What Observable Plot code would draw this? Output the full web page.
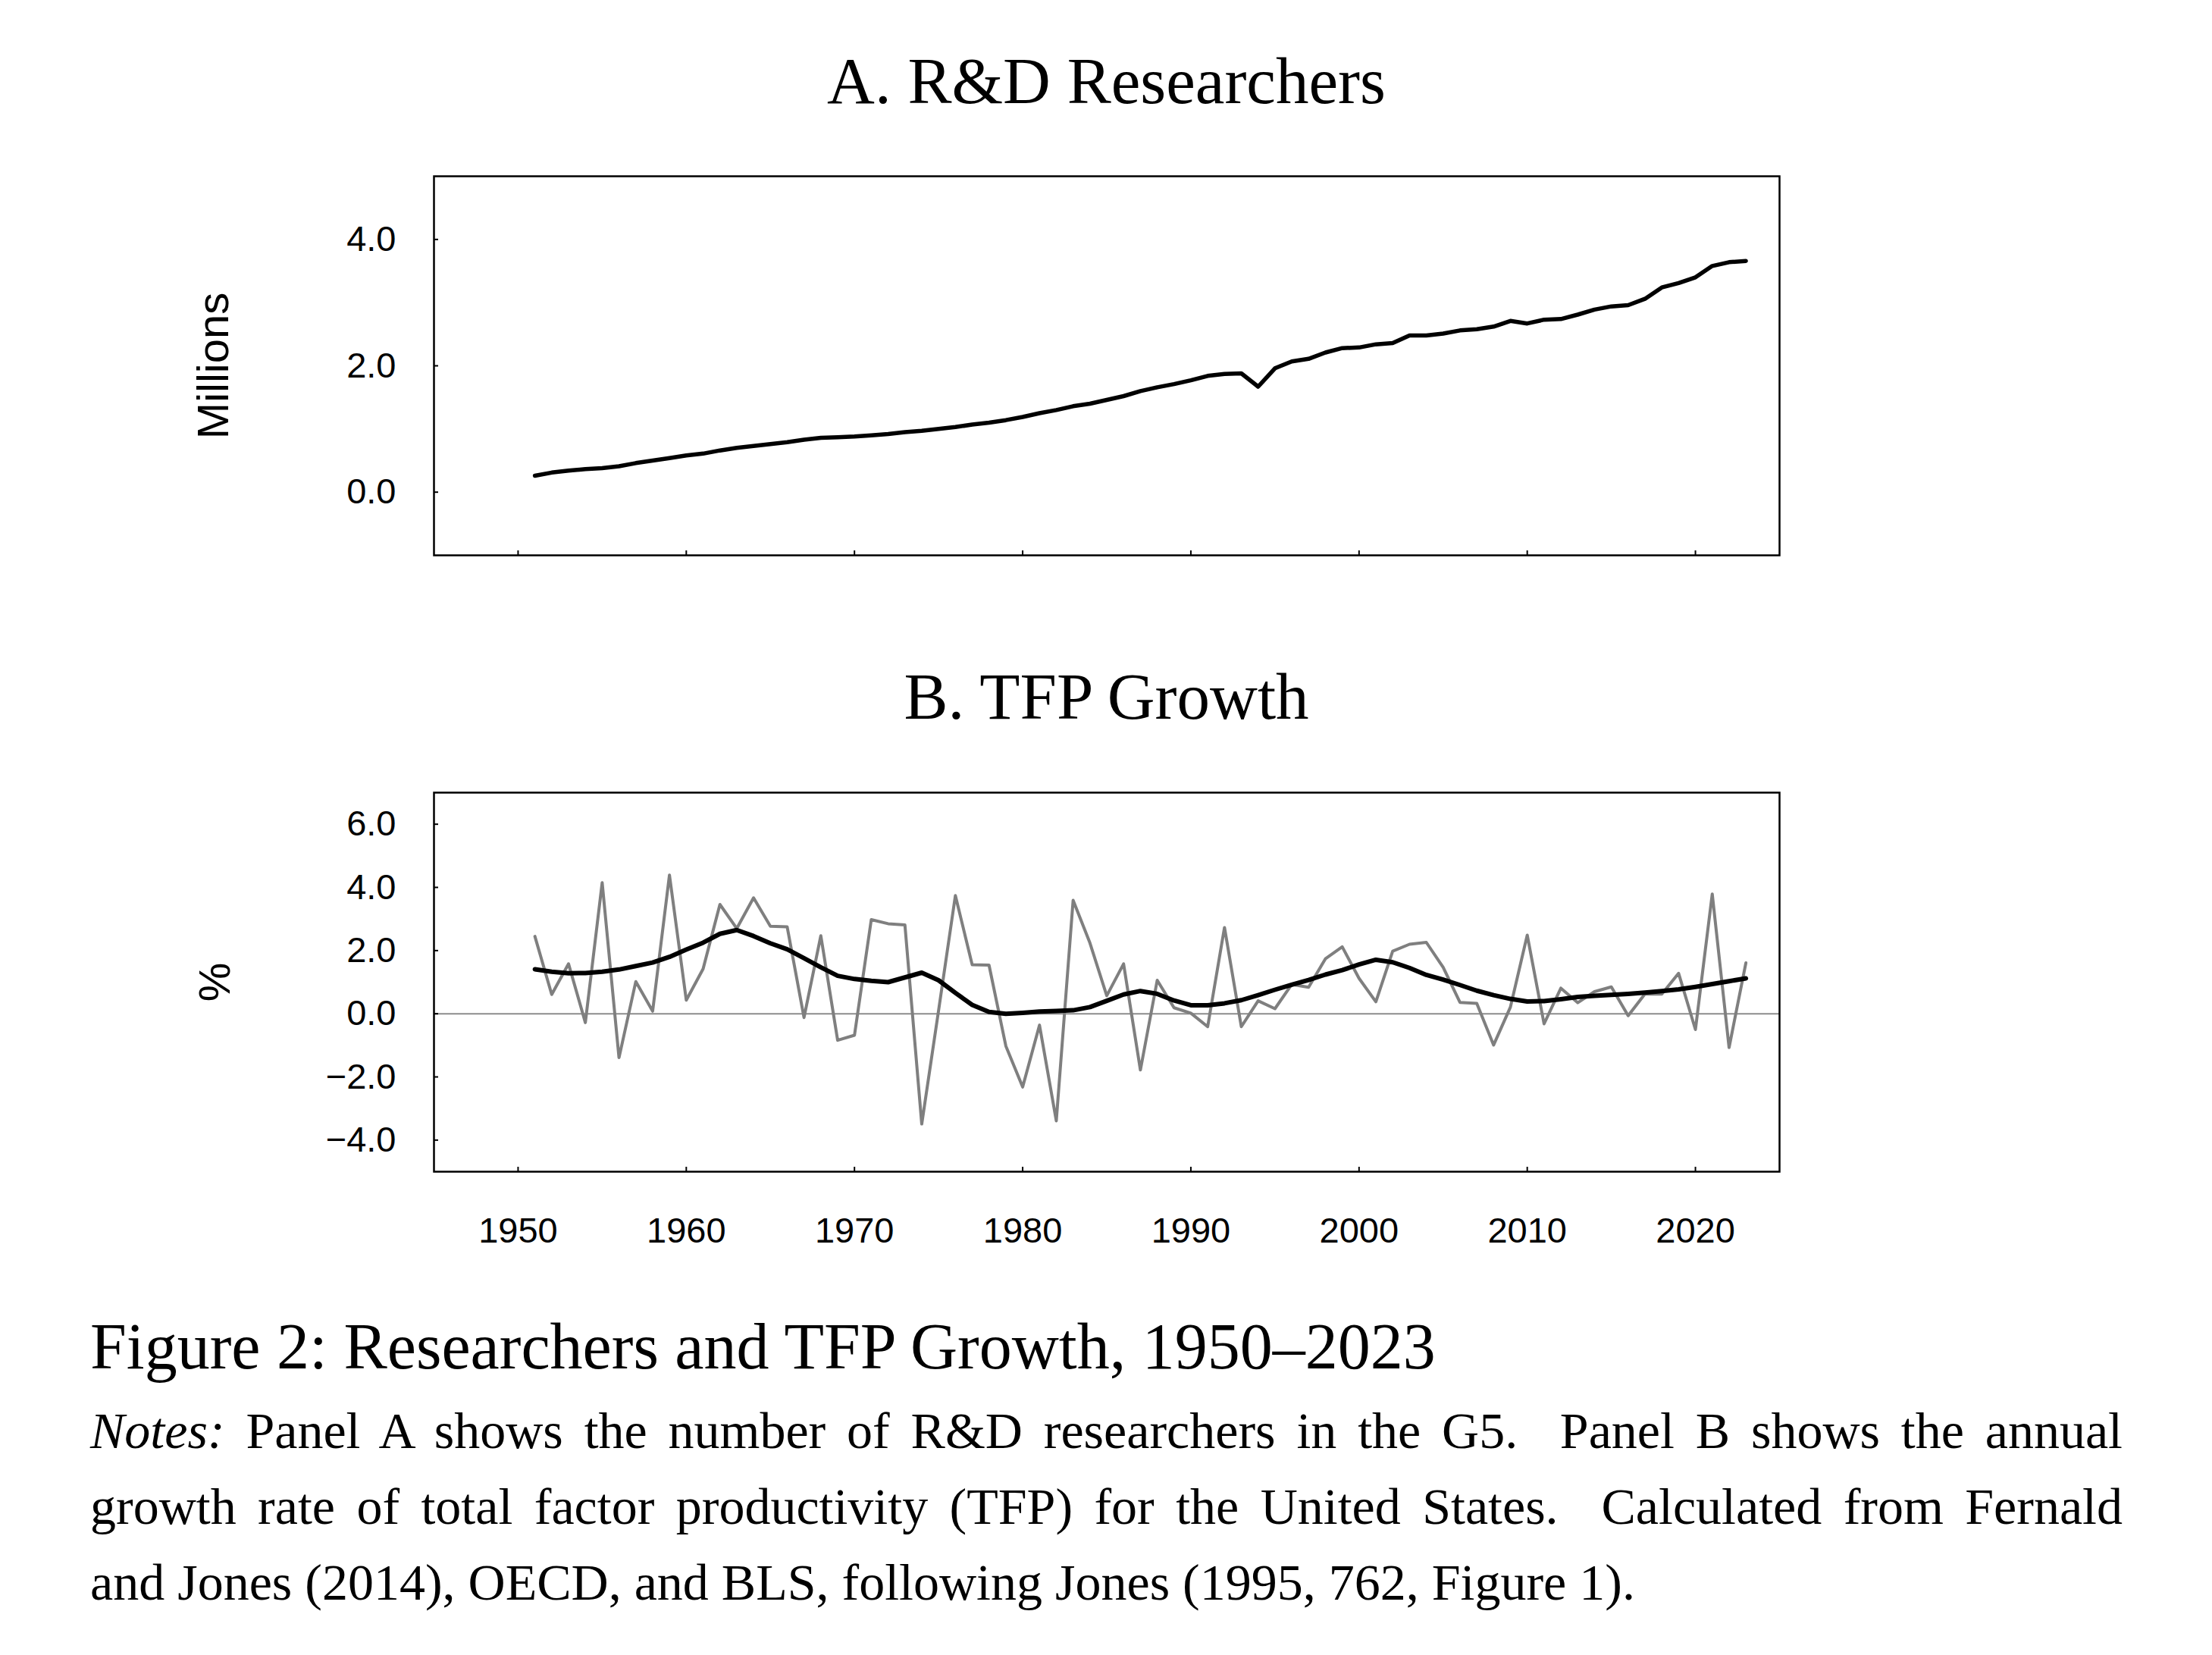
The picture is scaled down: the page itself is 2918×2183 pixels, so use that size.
<!DOCTYPE html>
<html>
<head>
<meta charset="utf-8">
<script src="https://cdn.jsdelivr.net/npm/d3@7"></script>
<script src="https://cdn.jsdelivr.net/npm/@observablehq/plot@0.6"></script>
<style>
  html, body { margin: 0; padding: 0; background: white; }
  #page { position: relative; width: 2918px; height: 2183px; overflow: hidden; background: white; }
  .plot { position: absolute; left: 0; z-index: 1; }
  .serif { position: absolute; z-index: 2; font-family: "Liberation Serif", "Times New Roman", serif; color: black; line-height: 1; white-space: pre; }
  .title { left: 572px; width: 1775px; text-align: center; font-size: 87px; }
  .caption { left: 119px; font-size: 86px; }
  .notes { left: 119px; font-size: 68px; }
</style>
</head>
<body>
<div id="page">
  <div id="plotA" class="plot" style="top:0px"></div>
  <div id="plotB" class="plot" style="top:800px"></div>
  <div class="serif title" style="top:63px">A. R&amp;D Researchers</div>
  <div class="serif title" style="top:875px">B. TFP Growth</div>
  <div class="serif caption" style="top:1733px">Figure 2: Researchers and TFP Growth, 1950–2023</div>
  <div class="serif notes justify" style="top:1853px"><i>Notes:</i> Panel A shows the number of R&amp;D researchers in the G5.  Panel B shows the annual</div>
  <div class="serif notes justify" style="top:1953px">growth rate of total factor productivity (TFP) for the United States.  Calculated from Fernald</div>
  <div class="serif notes" style="top:2053px">and Jones (2014), OECD, and BLS, following Jones (1995, 762, Figure 1).</div>
</div>
<script>
// ---- Data ----
const years = d3.range(1951, 2024);

// Panel A: R&D researchers in the G5 (millions)
const researchers = [
  0.26, 0.31, 0.34, 0.365, 0.38, 0.41, 0.46, 0.50, 0.54,          // 1951-1959
  0.58, 0.61, 0.66, 0.70, 0.73, 0.76, 0.79, 0.83, 0.86, 0.87,     // 1960-1969
  0.88, 0.90, 0.92, 0.95, 0.97, 1.00, 1.03, 1.07, 1.10, 1.14,     // 1970-1979
  1.19, 1.25, 1.30, 1.36, 1.40, 1.46, 1.52, 1.60, 1.66, 1.71,     // 1980-1989
  1.77, 1.84, 1.87, 1.88, 1.67, 1.96, 2.07, 2.11, 2.21, 2.28,     // 1990-1999
  2.29, 2.34, 2.36, 2.48, 2.48, 2.51, 2.56, 2.58, 2.62, 2.71,     // 2000-2009
  2.67, 2.73, 2.74, 2.81, 2.89, 2.94, 2.96, 3.06, 3.24, 3.31,     // 2010-2019
  3.40, 3.58, 3.64, 3.66                                          // 2020-2023
];

// Panel B: annual US TFP growth (%)
const tfpGrowth = [
  2.45, 0.61, 1.58, -0.28, 4.15, -1.39, 1.02, 0.08, 4.39,         // 1951-1959
  0.43, 1.42, 3.46, 2.70, 3.67, 2.77, 2.75, -0.12, 2.47, -0.84,   // 1960-1969
  -0.68, 2.98, 2.85, 2.81, -3.49, 0.10, 3.74, 1.55, 1.54, -1.02,  // 1970-1979
  -2.32, -0.36, -3.39, 3.59, 2.24, 0.57, 1.58, -1.78, 1.06, 0.19, // 1980-1989
  0.02, -0.41, 2.73, -0.41, 0.41, 0.16, 0.93, 0.84, 1.74, 2.12,   // 1990-1999
  1.12, 0.38, 1.98, 2.20, 2.26, 1.47, 0.36, 0.33, -0.99, 0.21,    // 2000-2009
  2.49, -0.32, 0.81, 0.35, 0.70, 0.85, -0.06, 0.63, 0.62, 1.28,   // 2010-2019
  -0.50, 3.79, -1.07, 1.61                                        // 2020-2023
];

// Panel B: smoothed trend of TFP growth (%)
const tfpTrend = [
  1.41, 1.33, 1.28, 1.29, 1.33, 1.40, 1.51, 1.62, 1.80,           // 1951-1959
  2.03, 2.25, 2.53, 2.65, 2.46, 2.23, 2.04, 1.76, 1.47, 1.20,     // 1960-1969
  1.10, 1.04, 1.00, 1.15, 1.30, 1.06, 0.66, 0.28, 0.06, 0.00,     // 1970-1979
  0.03, 0.07, 0.09, 0.11, 0.21, 0.41, 0.61, 0.72, 0.63, 0.42,     // 1980-1989
  0.27, 0.27, 0.33, 0.43, 0.59, 0.76, 0.92, 1.07, 1.24, 1.38,     // 1990-1999
  1.56, 1.71, 1.63, 1.45, 1.23, 1.08, 0.91, 0.73, 0.59, 0.47,     // 2000-2009
  0.39, 0.40, 0.46, 0.53, 0.57, 0.60, 0.63, 0.67, 0.72, 0.77,     // 2010-2019
  0.85, 0.94, 1.03, 1.12                                          // 2020-2023
];

const xTicks = [1950, 1960, 1970, 1980, 1990, 2000, 2010, 2020];
const yTicksA = [0, 2, 4];
const yTicksB = [-4, -2, 0, 2, 4, 6];
const xDomain = [1945, 2025];
const yDomainA = [-1, 5];
const yDomainB = [-5, 7];
const labelA = "Millions";
const labelB = "%";

// ---- Build tables ----
const dataA = years.map((year, i) => ({year, value: researchers[i]}));
const dataB = years.map((year, i) => ({year, growth: tfpGrowth[i], trend: tfpTrend[i]}));

const W = 2918, ML = 572, MR = 571;
const frameW = W - ML - MR;
const frameH = 500;
const tickLen = 6;
const fmt1 = d3.format(".1f");
const baseStyle = {fontFamily: "'Liberation Sans', Arial, Helvetica, sans-serif", fontSize: "47px", color: "black", background: "white", overflow: "visible"};

const plotA = Plot.plot({
  width: W, height: 752,
  marginTop: 232, marginBottom: 20, marginLeft: ML, marginRight: MR,
  style: baseStyle,
  x: {domain: xDomain, axis: null},
  y: {domain: yDomainA, axis: null},
  marks: [
    Plot.axisY(yTicksA, {anchor: "left", tickSize: 0, tickPadding: 50, tickFormat: fmt1, label: null}),
    Plot.tickY(yTicksA, {y: d => d, insetRight: frameW - tickLen, stroke: "black", strokeWidth: 2}),
    Plot.tickX(xTicks, {x: d => d, insetTop: frameH - tickLen, stroke: "black", strokeWidth: 2}),
    Plot.line(dataA, {x: "year", y: "value", stroke: "black", strokeWidth: 5.5}),
    Plot.frame({stroke: "black", strokeWidth: 2.5}),
    Plot.text([labelA], {frameAnchor: "left", dx: -290, rotate: -90, textAnchor: "middle", text: d => d, fontSize: 58})
  ]
});
document.getElementById("plotA").append(plotA);

const plotB = Plot.plot({
  width: W, height: 865,
  marginTop: 245, marginBottom: 120, marginLeft: ML, marginRight: MR,
  style: baseStyle,
  x: {domain: xDomain, axis: null},
  y: {domain: yDomainB, axis: null},
  marks: [
    Plot.ruleY([0], {stroke: "#8c8c8c", strokeWidth: 2}),
    Plot.line(dataB, {x: "year", y: "growth", stroke: "#7f7f7f", strokeWidth: 4}),
    Plot.line(dataB, {x: "year", y: "trend", stroke: "black", strokeWidth: 6}),
    Plot.axisY(yTicksB, {anchor: "left", tickSize: 0, tickPadding: 50, tickFormat: fmt1, label: null}),
    Plot.axisX(xTicks, {anchor: "bottom", tickSize: 0, tickPadding: 60, tickFormat: "d", label: null}),
    Plot.tickY(yTicksB, {y: d => d, insetRight: frameW - tickLen, stroke: "black", strokeWidth: 2}),
    Plot.tickX(xTicks, {x: d => d, insetTop: frameH - tickLen, stroke: "black", strokeWidth: 2}),
    Plot.frame({stroke: "black", strokeWidth: 2.5}),
    Plot.text([labelB], {frameAnchor: "left", dx: -288, rotate: -90, textAnchor: "middle", text: d => d, fontSize: 58})
  ]
});
document.getElementById("plotB").append(plotB);

// ---- Justify the first two note lines to the text block width ----
const targetWidth = 2800 - 119;
document.querySelectorAll(".justify").forEach(el => {
  el.style.wordSpacing = "0px";
  const w = el.getBoundingClientRect().width;
  const spaces = (el.textContent.match(/ /g) || []).length;
  if (spaces > 0) el.style.wordSpacing = ((targetWidth - w) / spaces) + "px";
});
</script>
</body>
</html>
